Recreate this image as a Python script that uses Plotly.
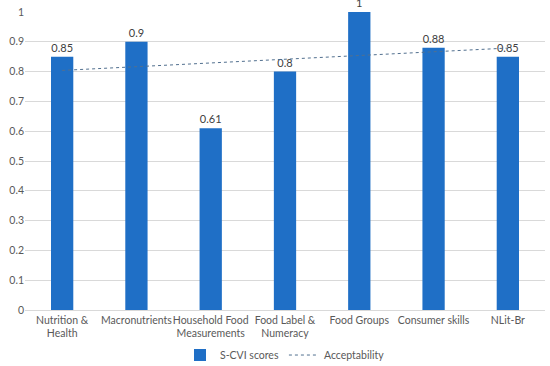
import plotly.graph_objects as go

categories = ["Nutrition &<br>Health", "Macronutrients", "Household Food<br>Measurements",
              "Food Label &<br>Numeracy", "Food Groups", "Consumer skills", "NLit-Br"]
scvi_scores = [0.85, 0.9, 0.61, 0.8, 1, 0.88, 0.85]
acceptability_x = [categories[0], categories[-1]]
acceptability_y = [0.804, 0.879]
y_ticks = [0, 0.1, 0.2, 0.3, 0.4, 0.5, 0.6, 0.7, 0.8, 0.9, 1]
y_tick_labels = ["0", "0.1", "0.2", "0.3", "0.4", "0.5", "0.6", "0.7", "0.8", "0.9", "1"]

font_family = "Lato, Open Sans, sans-serif"

fig = go.Figure()
fig.add_trace(go.Bar(
    x=categories, y=scvi_scores, name="S-CVI scores",
    marker=dict(color="#1f6fc6", line=dict(width=0)),
    text=[str(v) for v in scvi_scores], textposition="outside",
    textfont=dict(size=11, color="#404040", family=font_family),
    cliponaxis=False,
))
fig.add_trace(go.Scatter(
    x=acceptability_x, y=acceptability_y, name="Acceptability", mode="lines",
    line=dict(color="#52708f", width=1, dash="dot"),
))

fig.update_layout(
    width=550, height=366,
    margin=dict(l=25, r=5, t=12, b=56, autoexpand=False),
    paper_bgcolor="white", plot_bgcolor="white",
    bargap=0.7,
    font=dict(family=font_family, size=10.5, color="#595959"),
    legend=dict(orientation="h", x=0.5, xanchor="center",
                yref="container", y=0.03, yanchor="middle",
                font=dict(size=10.5, color="#595959"), traceorder="normal",
                itemwidth=30),
    showlegend=True,
)
fig.update_yaxes(range=[0, 1], tickvals=y_ticks, ticktext=y_tick_labels,
                 showgrid=True, gridcolor="#d9d9d9", gridwidth=1,
                 zeroline=False, showline=False, ticks="", ticklen=0,
                 automargin=False,
                 tickfont=dict(size=10.5, color="#595959"))
fig.update_xaxes(showline=True, linecolor="#d9d9d9", linewidth=1, ticks="",
                 automargin=False,
                 tickfont=dict(size=10.5, color="#595959"), tickangle=0)

fig.write_html("out.html", config={"displayModeBar": False},
               post_script="document.body.style.margin='0';")
